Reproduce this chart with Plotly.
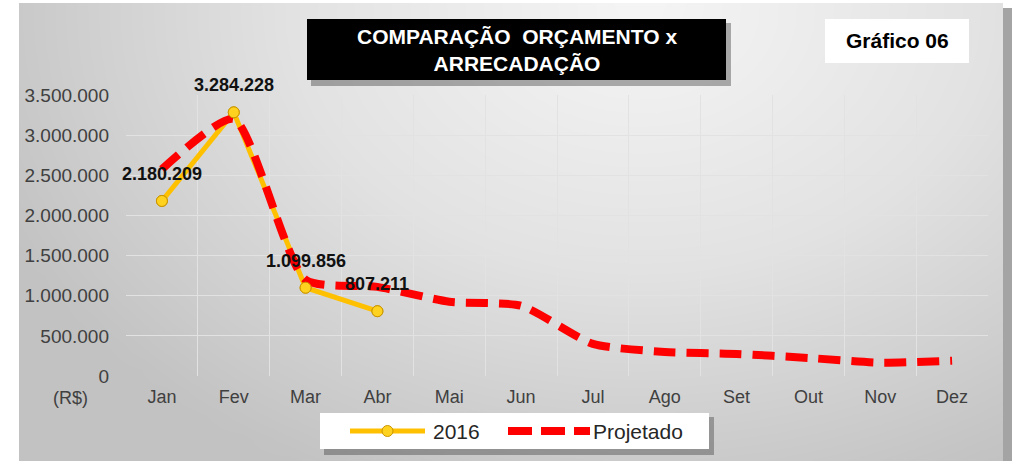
import numpy as np
import plotly.graph_objects as go

# ---------------- data ----------------
months = ["Jan", "Fev", "Mar", "Abr", "Mai", "Jun", "Jul", "Ago", "Set", "Out", "Nov", "Dez"]
months_2016 = ["Jan", "Fev", "Mar", "Abr"]
real_2016 = [2180209, 3284228, 1099856, 807211]
projetado = [2575000, 3200000, 1200000, 1110000, 925000, 875000,
             400000, 300000, 275000, 225000, 165000, 190000]
y_tick_vals = [0, 500000, 1000000, 1500000, 2000000, 2500000, 3000000, 3500000]
series_names = ["2016", "Projetado"]

title_text = "COMPARAÇÃO\u00a0 ORÇAMENTO x<br>ARRECADAÇÃO"
badge_text = "Gráfico 06"
unit_text = "(R$)"

# ---------------- helpers ----------------
W, H = 1012, 461
FONT = "Arial, 'Liberation Sans', sans-serif"
YELLOW = "#ffc000"
MARK = "#ffd21f"
MARK_EDGE = "#c99400"
RED = "#ff0000"


def fmt(v):
    return f"{v:,}".replace(",", ".")


def px(xp):
    return xp / W


def py(yp):
    return 1 - yp / H


fig = go.Figure()

# background radial gradient (decorative) on the first, full-size subplot
gx = np.linspace(19, 1003, 41)
gy = np.linspace(3, 461, 21)
GX, GY = np.meshgrid(gx, gy)
gz = np.clip(np.sqrt(((GX - 640) / 700.0) ** 2 + ((GY - 10) / 520.0) ** 2), 0, 1)
fig.add_trace(go.Heatmap(
    x=gx, y=gy, z=gz, zsmooth="best", showscale=False, hoverinfo="skip",
    colorscale=[[0, "#f5f5f5"], [0.5, "#e2e2e2"], [1, "#c2c2c2"]],
    zmin=0, zmax=1, xaxis="x", yaxis="y", showlegend=False,
))

# data series on the second subplot
fig.add_trace(go.Scatter(
    x=months_2016, y=real_2016, name=series_names[0], mode="lines+markers",
    line=dict(color=YELLOW, width=5),
    marker=dict(size=11, color=MARK, line=dict(color=MARK_EDGE, width=1)),
    xaxis="x2", yaxis="y2", showlegend=False,
))
fig.add_trace(go.Scatter(
    x=months, y=projetado, name=series_names[1], mode="lines",
    line=dict(color=RED, width=8, dash="22px,11px", shape="spline", smoothing=0.6),
    xaxis="x2", yaxis="y2", showlegend=False,
))
fig.add_trace(go.Scatter(
    x=months_2016, y=real_2016, mode="markers", showlegend=False,
    marker=dict(size=11, color=MARK, line=dict(color=MARK_EDGE, width=1)),
    xaxis="x2", yaxis="y2", hoverinfo="skip",
))

annotations = []
for m, v in zip(months_2016, real_2016):
    annotations.append(dict(
        x=m, y=v, xref="x2", yref="y2", text=fmt(v), showarrow=False, yshift=27,
        font=dict(family=FONT, size=18, color="#111111", weight="bold"),
    ))

annotations.append(dict(
    x=px(517), y=py(50), xref="paper", yref="paper", text=title_text, showarrow=False,
    font=dict(family=FONT, size=21, color="white", weight="bold"),
    xanchor="center", yanchor="middle",
))
annotations.append(dict(
    x=px(897), y=py(41), xref="paper", yref="paper", text=badge_text, showarrow=False,
    font=dict(family=FONT, size=21, color="black", weight="bold"),
    xanchor="center", yanchor="middle",
))
annotations.append(dict(
    x=px(70), y=py(398), xref="paper", yref="paper", text=unit_text, showarrow=False,
    font=dict(family=FONT, size=18, color="#404040"),
    xanchor="center", yanchor="middle",
))
# legend labels
annotations.append(dict(
    x=px(431), y=py(431), xref="paper", yref="paper", text=series_names[0], showarrow=False,
    font=dict(family=FONT, size=21, color="#262626"), xanchor="left", yanchor="middle",
))
annotations.append(dict(
    x=px(591), y=py(431), xref="paper", yref="paper", text=series_names[1], showarrow=False,
    font=dict(family=FONT, size=21, color="#262626"), xanchor="left", yanchor="middle",
))


def rect(x0, y0, x1, y1, fill, layer="above"):
    return dict(type="rect", xref="paper", yref="paper",
                x0=px(x0), x1=px(x1), y0=py(y1), y1=py(y0),
                fillcolor=fill, line=dict(width=0), layer=layer)


shapes = [
    rect(1003, 8, 1012, 461, "#a4a4a4"),
    rect(311, 23, 731, 86, "rgba(0,0,0,0.30)"),
    rect(307, 19, 726, 80, "#000000"),
    rect(825, 19, 969, 63, "#ffffff"),
    # legend box
    rect(324, 417, 714, 455, "rgba(0,0,0,0.28)"),
    rect(320, 413, 709, 449, "#ffffff"),
    dict(type="line", xref="paper", yref="paper", x0=px(350), x1=px(425), y0=py(431), y1=py(431),
         line=dict(color=YELLOW, width=5)),
    dict(type="circle", xref="paper", yref="paper", x0=px(382), x1=px(393), y0=py(436.5), y1=py(425.5),
         fillcolor=MARK, line=dict(color=MARK_EDGE, width=1)),
    dict(type="line", xref="paper", yref="paper", x0=px(508), x1=px(590), y0=py(431), y1=py(431),
         line=dict(color=RED, width=8, dash="24px,9px")),
]

grid_col = "#e2e2e2"
fig.update_layout(
    template="none",
    width=W, height=H,
    margin=dict(l=0, r=0, t=0, b=0),
    paper_bgcolor="white",
    plot_bgcolor="rgba(0,0,0,0)",
    font=dict(family=FONT, color="#404040"),
    xaxis=dict(domain=[px(19), px(1003)], range=[19, 1003], visible=False,
               fixedrange=True, automargin=False),
    yaxis=dict(domain=[0, py(3)], range=[461, 3], visible=False,
               fixedrange=True, automargin=False),
    xaxis2=dict(domain=[px(126), px(988)], anchor="y2", type="category",
                categoryorder="array", categoryarray=months, range=[-0.5, 11.5],
                tickson="boundaries", showgrid=True, gridcolor=grid_col, gridwidth=1,
                ticks="", showline=False, zeroline=False,
                tickfont=dict(family=FONT, size=18, color="#404040"),
                ticklabelstandoff=8, automargin=False),
    yaxis2=dict(domain=[py(376), py(95)], anchor="x2", range=[0, 3500000],
                tickvals=y_tick_vals, ticktext=[fmt(v) for v in y_tick_vals],
                showgrid=True, gridcolor=grid_col, gridwidth=1, zeroline=False,
                ticks="", showline=False,
                tickfont=dict(family=FONT, size=19, color="#404040"),
                ticklabelstandoff=16, automargin=False),
    showlegend=False,
    shapes=shapes,
    annotations=annotations,
)

fig.write_html("out.html", config={"displayModeBar": False},
               post_script="document.body.style.margin='0';document.body.style.overflow='hidden';")
